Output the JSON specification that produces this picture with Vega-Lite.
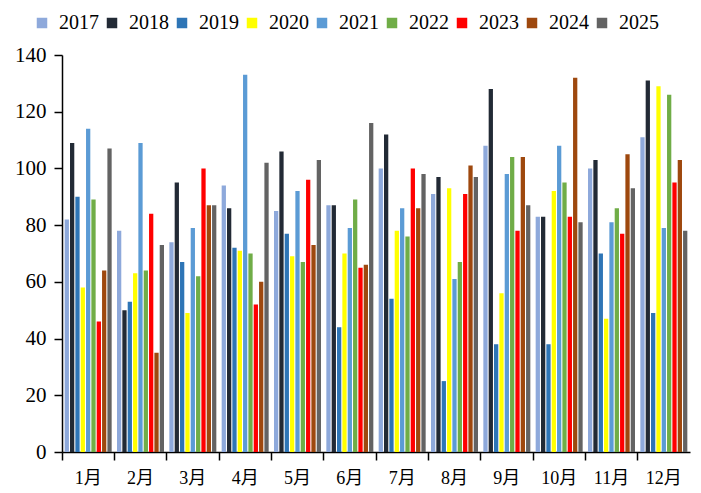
{
  "$schema": "https://vega.github.io/schema/vega-lite/v6.json",
  "width": 628,
  "height": 397,
  "autosize": {"type": "none"},
  "padding": {"left": 62, "top": 55, "right": 11, "bottom": 41},
  "background": "white",
  "data": {
    "values": [
      {"m":"1月","y":"2017","v":82},{"m":"1月","y":"2018","v":109},{"m":"1月","y":"2019","v":90},{"m":"1月","y":"2020","v":58},{"m":"1月","y":"2021","v":114},{"m":"1月","y":"2022","v":89},{"m":"1月","y":"2023","v":46},{"m":"1月","y":"2024","v":64},{"m":"1月","y":"2025","v":107},
      {"m":"2月","y":"2017","v":78},{"m":"2月","y":"2018","v":50},{"m":"2月","y":"2019","v":53},{"m":"2月","y":"2020","v":63},{"m":"2月","y":"2021","v":109},{"m":"2月","y":"2022","v":64},{"m":"2月","y":"2023","v":84},{"m":"2月","y":"2024","v":35},{"m":"2月","y":"2025","v":73},
      {"m":"3月","y":"2017","v":74},{"m":"3月","y":"2018","v":95},{"m":"3月","y":"2019","v":67},{"m":"3月","y":"2020","v":49},{"m":"3月","y":"2021","v":79},{"m":"3月","y":"2022","v":62},{"m":"3月","y":"2023","v":100},{"m":"3月","y":"2024","v":87},{"m":"3月","y":"2025","v":87},
      {"m":"4月","y":"2017","v":94},{"m":"4月","y":"2018","v":86},{"m":"4月","y":"2019","v":72},{"m":"4月","y":"2020","v":71},{"m":"4月","y":"2021","v":133},{"m":"4月","y":"2022","v":70},{"m":"4月","y":"2023","v":52},{"m":"4月","y":"2024","v":60},{"m":"4月","y":"2025","v":102},
      {"m":"5月","y":"2017","v":85},{"m":"5月","y":"2018","v":106},{"m":"5月","y":"2019","v":77},{"m":"5月","y":"2020","v":69},{"m":"5月","y":"2021","v":92},{"m":"5月","y":"2022","v":67},{"m":"5月","y":"2023","v":96},{"m":"5月","y":"2024","v":73},{"m":"5月","y":"2025","v":103},
      {"m":"6月","y":"2017","v":87},{"m":"6月","y":"2018","v":87},{"m":"6月","y":"2019","v":44},{"m":"6月","y":"2020","v":70},{"m":"6月","y":"2021","v":79},{"m":"6月","y":"2022","v":89},{"m":"6月","y":"2023","v":65},{"m":"6月","y":"2024","v":66},{"m":"6月","y":"2025","v":116},
      {"m":"7月","y":"2017","v":100},{"m":"7月","y":"2018","v":112},{"m":"7月","y":"2019","v":54},{"m":"7月","y":"2020","v":78},{"m":"7月","y":"2021","v":86},{"m":"7月","y":"2022","v":76},{"m":"7月","y":"2023","v":100},{"m":"7月","y":"2024","v":86},{"m":"7月","y":"2025","v":98},
      {"m":"8月","y":"2017","v":91},{"m":"8月","y":"2018","v":97},{"m":"8月","y":"2019","v":25},{"m":"8月","y":"2020","v":93},{"m":"8月","y":"2021","v":61},{"m":"8月","y":"2022","v":67},{"m":"8月","y":"2023","v":91},{"m":"8月","y":"2024","v":101},{"m":"8月","y":"2025","v":97},
      {"m":"9月","y":"2017","v":108},{"m":"9月","y":"2018","v":128},{"m":"9月","y":"2019","v":38},{"m":"9月","y":"2020","v":56},{"m":"9月","y":"2021","v":98},{"m":"9月","y":"2022","v":104},{"m":"9月","y":"2023","v":78},{"m":"9月","y":"2024","v":104},{"m":"9月","y":"2025","v":87},
      {"m":"10月","y":"2017","v":83},{"m":"10月","y":"2018","v":83},{"m":"10月","y":"2019","v":38},{"m":"10月","y":"2020","v":92},{"m":"10月","y":"2021","v":108},{"m":"10月","y":"2022","v":95},{"m":"10月","y":"2023","v":83},{"m":"10月","y":"2024","v":132},{"m":"10月","y":"2025","v":81},
      {"m":"11月","y":"2017","v":100},{"m":"11月","y":"2018","v":103},{"m":"11月","y":"2019","v":70},{"m":"11月","y":"2020","v":47},{"m":"11月","y":"2021","v":81},{"m":"11月","y":"2022","v":86},{"m":"11月","y":"2023","v":77},{"m":"11月","y":"2024","v":105},{"m":"11月","y":"2025","v":93},
      {"m":"12月","y":"2017","v":111},{"m":"12月","y":"2018","v":131},{"m":"12月","y":"2019","v":49},{"m":"12月","y":"2020","v":129},{"m":"12月","y":"2021","v":79},{"m":"12月","y":"2022","v":126},{"m":"12月","y":"2023","v":95},{"m":"12月","y":"2024","v":103},{"m":"12月","y":"2025","v":78}
    ]
  },
  "mark": {"type": "bar"},
  "encoding": {
    "x": {
      "field": "m", "type": "nominal", "sort": null, "title": null,
      "scale": {"paddingInner": 0, "paddingOuter": 0},
      "axis": {"bandPosition": 0, "labelAngle": 0, "labelAlign": "center", "tickSize": 8, "tickColor": "black", "tickWidth": 1.5, "domainColor": "black", "domainWidth": 1.5, "labelPadding": 9, "labelFont": "Liberation Serif, Noto Sans CJK SC", "labelFontSize": 18, "labelColor": "black", "grid": false}
    },
    "xOffset": {"field": "y", "type": "nominal", "scale": {"paddingInner": 0.2, "paddingOuter": 0.5}},
    "y": {
      "field": "v", "type": "quantitative", "title": null,
      "scale": {"domain": [0, 140], "nice": false},
      "axis": {"values": [0,20,40,60,80,100,120,140], "grid": false, "tickSize": 8, "tickColor": "black", "tickWidth": 1.5, "domainColor": "black", "domainWidth": 1.5, "labelPadding": 8, "labelFont": "Liberation Serif", "labelFontSize": 21, "labelColor": "black"}
    },
    "color": {
      "field": "y", "type": "nominal", "title": null,
      "scale": {"domain": ["2017","2018","2019","2020","2021","2022","2023","2024","2025"], "range": ["#8EA9DB","#222A35","#2E75B6","#FFFF00","#5B9BD5","#70AD47","#FF0000","#9E480E","#636363"]},
      "legend": {"orient": "none", "legendX": -30, "legendY": -42, "direction": "horizontal", "symbolType": "square", "symbolSize": 110, "symbolStrokeWidth": 0, "labelFont": "Liberation Serif", "labelFontSize": 20, "labelColor": "black", "columnPadding": 3, "labelOffset": 7}
    }
  },
  "config": {"view": {"stroke": null}}
}
